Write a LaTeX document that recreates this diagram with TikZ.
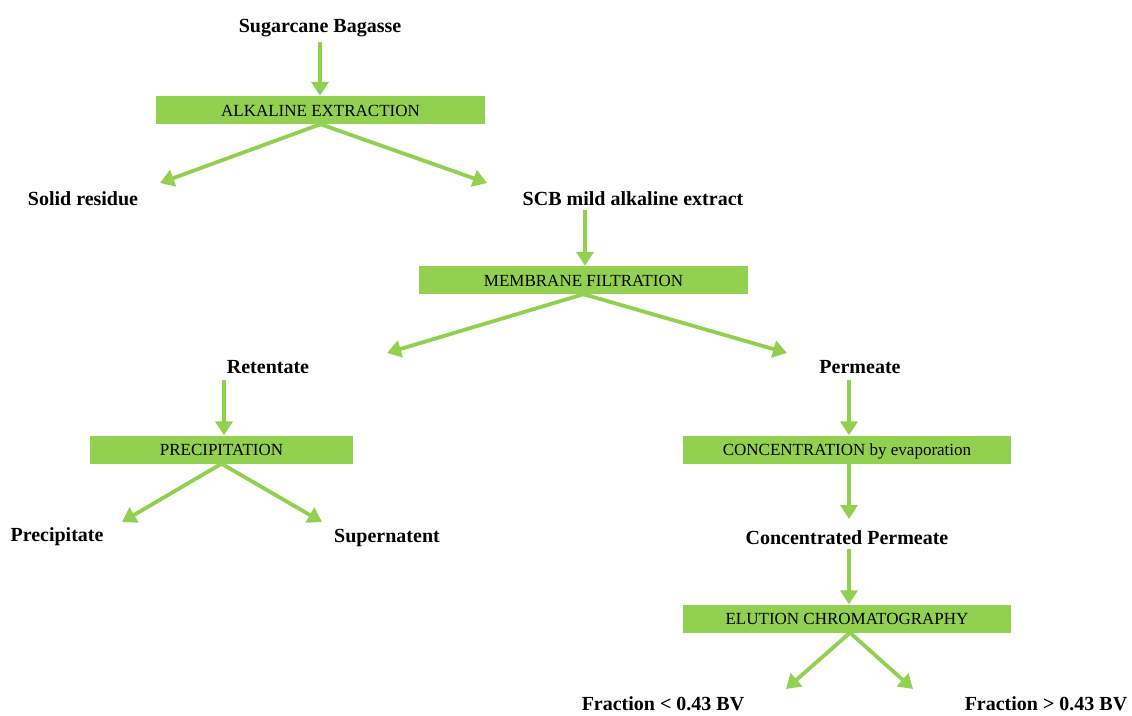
\documentclass[tikz,border=0pt]{standalone}
\usepackage{fontspec}
\setmainfont{Liberation Serif}
\usetikzlibrary{arrows.meta}
\definecolor{lgreen}{HTML}{92D050}
\tikzset{
  stepbox/.style={fill=lgreen, draw=none, inner sep=0pt, minimum width=#1, minimum height=28pt, text height=13pt, text depth=0.5pt, font=\fontsize{17}{20}\selectfont},
  lbl/.style={font=\fontsize{20}{24}\selectfont\bfseries, inner sep=1pt},
  conn/.style={draw=lgreen, line width=3.8pt, -{Triangle[width=17pt,length=14pt]}, shorten >=0pt},
}
\begin{document}
\begin{tikzpicture}[x=1pt,y=-1pt]
\useasboundingbox (0,0) rectangle (1132,715);
% boxes
\node[stepbox=329pt] (b1) at (320.5,110) {ALKALINE EXTRACTION};
\node[stepbox=329pt] (b2) at (583.5,280) {MEMBRANE FILTRATION};
\node[stepbox=263pt] (b3) at (221.5,449.5) {PRECIPITATION};
\node[stepbox=328pt] (b4) at (847,449.5) {CONCENTRATION by evaporation};
\node[stepbox=328pt] (b5) at (847,618.5) {ELUTION CHROMATOGRAPHY};
% labels
\node[lbl] (l0) at (320,28) {Sugarcane Bagasse};
\node[lbl] (l1) at (83,198.5) {Solid residue};
\node[lbl] (l2) at (633,198.5) {SCB mild alkaline extract};
\node[lbl] (l3) at (268,367.5) {Retentate};
\node[lbl] (l4) at (860,367.5) {Permeate};
\node[lbl] (l5) at (57,536.5) {Precipitate};
\node[lbl] (l6) at (387,537.5) {Supernatent};
\node[lbl] (l7) at (847,537.5) {Concentrated Permeate};
\node[lbl] (l8) at (663,704) {Fraction < 0.43 BV};
\node[lbl] (l9) at (1046,704) {Fraction > 0.43 BV};
% tips / starts
\coordinate (s0) at (320,42);
\coordinate (t1a) at (160,183);
\coordinate (t1b) at (487,183);
\coordinate (s2) at (585,210);
\coordinate (t2a) at (387,353);
\coordinate (t2b) at (787,353);
\coordinate (s3) at (224,380);
\coordinate (s4) at (849,380);
\coordinate (t3a) at (122,522);
\coordinate (t3b) at (322,522);
\coordinate (t4) at (849,519);
\coordinate (s7) at (849,549);
\coordinate (t5a) at (786,689);
\coordinate (t5b) at (913,689);
% connectors
\draw[conn] (s0) -- (b1.north -| s0);
\draw[conn] (b1.south) -- (t1a);
\draw[conn] (b1.south) -- (t1b);
\draw[conn] (s2) -- (b2.north -| s2);
\draw[conn] (b2.south) -- (t2a);
\draw[conn] (b2.south) -- (t2b);
\draw[conn] (s3) -- (b3.north -| s3);
\draw[conn] (s4) -- (b4.north -| s4);
\draw[conn] (b3.south) -- (t3a);
\draw[conn] (b3.south) -- (t3b);
\draw[conn] (b4.south -| s4) -- (t4);
\draw[conn] (s7) -- (b5.north -| s7);
\draw[conn] (b5.south -| 850,0) -- (t5a);
\draw[conn] (b5.south -| 850,0) -- (t5b);
\end{tikzpicture}
\end{document}
